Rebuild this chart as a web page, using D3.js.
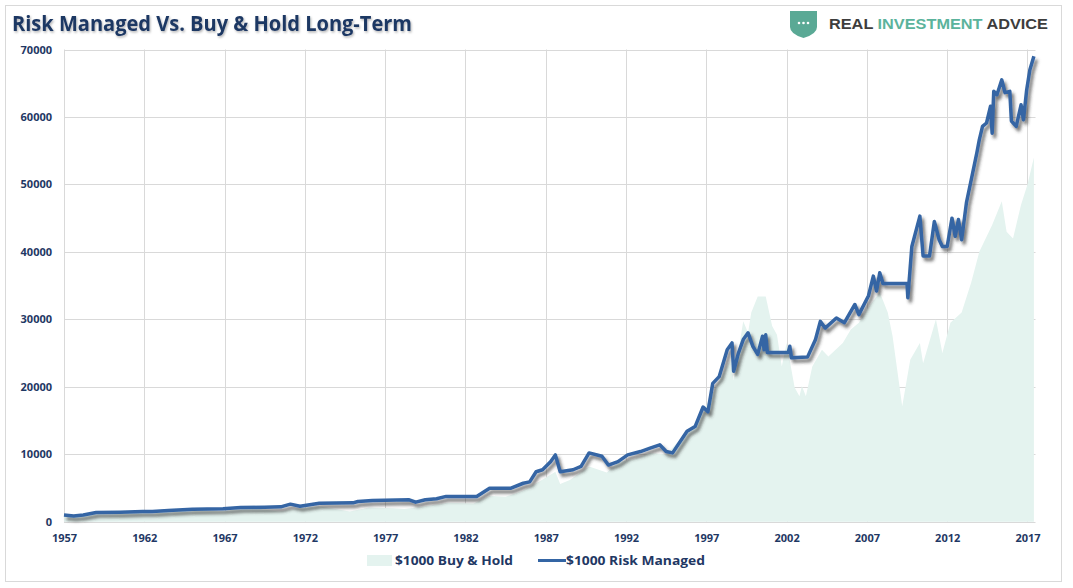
<!DOCTYPE html>
<html>
<head>
<meta charset="utf-8">
<script src="https://d3js.org/d3.v7.min.js"></script>
<style>
body { margin:0; background:#fff; }
text { font-family: "Open Sans", "Noto Sans", sans-serif; }
</style>
</head>
<body>
<svg></svg>
<script>
// risk managed line (year, value)
var rmYears = [1957.0,1957.6,1958.2,1959.0,1960.5,1961.9,1962.5,1963.5,1965.0,1966.9,1968.0,1969.5,1970.5,1971.1,1971.7,1972.9,
  1975.0,1975.3,1976.2,1978.5,1978.9,1979.5,1980.2,1980.8,1982.7,1983.5,1984.8,1985.6,1986.0,1986.4,1986.8,1987.3,1987.6,1987.9,
  1988.7,1989.2,1989.7,1990.5,1990.9,1991.5,1992.1,1992.9,1993.5,1994.1,1994.5,1994.9,1995.8,1996.3,1996.8,1997.1,1997.4,1997.8,
  1998.3,1998.6,1998.7,1999.0,1999.3,1999.6,1999.9,2000.2,2000.5,2000.6,2000.7,2000.8,2002.1,2002.2,2002.3,2003.3,2003.8,2004.1,
  2004.4,2005.1,2005.6,2006.25,2006.5,2007.1,2007.4,2007.6,2007.8,2008.0,2009.5,2009.55,2009.8,2010.3,2010.5,2010.9,2011.2,2011.5,
  2011.7,2012.0,2012.3,2012.5,2012.7,2012.9,2013.2,2013.5,2013.85,2014.0,2014.2,2014.45,2014.7,2014.8,2014.9,2015.1,2015.4,2015.6,
  2015.9,2016.0,2016.3,2016.6,2016.75,2016.95,2017.15,2017.4]
var rmValues = [1000,850,1000,1350,1400,1520,1500,1650,1850,1930,2100,2150,2200,2600,2300,2750,
  2800,3000,3150,3250,2900,3250,3400,3750,3750,4950,4950,5700,5900,7400,7700,8900,9900,7400,
  7700,8200,10200,9700,8400,8900,9900,10400,10900,11400,10400,10200,13400,14100,17000,16300,20500,21500,
  25500,26500,22300,25000,27000,28000,26000,24800,27500,25500,27700,25100,25100,26000,24300,24400,27000,29700,
  28700,30200,29500,32200,30700,33500,36400,34200,36900,35300,35300,33200,40800,45300,39400,39400,44500,41800,
  40800,40800,45000,42300,44800,41800,47300,50700,54700,56600,58600,59100,61600,57600,63800,63300,65500,63600,
  63800,59400,58600,61800,59600,64000,67000,69000]

// buy and hold area
var bhYears = [1957.0,1957.8,1958.5,1959.5,1960.8,1961.9,1962.5,1963.5,1965.0,1966.8,1968.0,1968.9,1970.4,1971.5,1972.9,1974.8,
  1976.0,1977.5,1978.2,1979.5,1980.9,1982.5,1983.5,1984.5,1985.5,1986.5,1987.6,1987.9,1988.5,1989.7,1990.8,1991.5,1992.5,1993.5,
  1994.5,1995.5,1996.5,1997.5,1998.5,1998.7,1999.3,1999.6,1999.8,2000.2,2000.7,2001.1,2001.4,2001.7,2002.0,2002.5,2002.8,2002.95,
  2003.2,2003.6,2004.2,2004.6,2005.5,2006.0,2006.5,2007.0,2007.8,2008.3,2008.6,2009.2,2009.7,2010.3,2010.5,2011.3,2011.7,2012.2,
  2012.9,2013.5,2014.0,2014.8,2015.4,2015.7,2016.1,2016.6,2017.0,2017.4]
var bhValues = [1000,850,1050,1250,1200,1450,1200,1500,1750,1600,1850,1950,1500,1950,2300,1500,
  2100,2000,1900,2300,2800,2700,3800,3700,4500,5800,7400,5600,6200,8200,7300,8800,9300,10200,
  10000,12500,15000,19500,24000,21000,29700,28000,31000,33400,33400,29000,27700,23000,26500,19900,18600,20100,
  18600,23000,25500,24500,26500,28500,29500,31500,34000,31000,27500,17100,24000,26500,23500,30000,25000,29500,
  31000,35500,40000,44000,47500,43000,42000,47000,50000,54000]

var xTicks = [1957,1962,1967,1972,1977,1982,1987,1992,1997,2002,2007,2012,2017]
var yTicks = [0,10000,20000,30000,40000,50000,60000,70000]

var screen = {width:1073, height:588}
var plot = {left:64, right:1035.5, top:49.5, bottom:521.7}
var navy = "#1f3864"

var svg = d3.select("svg")
    .attr("width", screen.width)
    .attr("height", screen.height)

var defs = svg.append("defs")
defs.append("filter").attr("id", "lineShadow")
    .attr("x", "-5%").attr("y", "-5%").attr("width", "110%").attr("height", "115%")
    .append("feDropShadow")
    .attr("dx", 2.5).attr("dy", 3.5).attr("stdDeviation", 1.8)
    .attr("flood-color", "#333").attr("flood-opacity", 0.65)
defs.append("filter").attr("id", "textShadow")
    .append("feDropShadow")
    .attr("dx", 1).attr("dy", 1.5).attr("stdDeviation", 1)
    .attr("flood-color", "#000").attr("flood-opacity", 0.3)

// outer frame
svg.append("rect")
    .attr("x", 5.5).attr("y", 5.5)
    .attr("width", 1056).attr("height", 576)
    .attr("fill", "none").attr("stroke", "#d9d9d9")

var xScale = d3.scaleLinear()
    .domain([1957, 2017.5])
    .range([plot.left, plot.right])
var yScale = d3.scaleLinear()
    .domain([0, 70000])
    .range([plot.bottom, plot.top])

// grid
var grid = svg.append("g").attr("id", "grid")
grid.selectAll("line.h")
    .data(yTicks)
    .enter()
    .append("line")
    .attr("class", "h")
    .attr("x1", plot.left).attr("x2", plot.right)
    .attr("y1", function(d){ return Math.round(yScale(d)) + 0.5 })
    .attr("y2", function(d){ return Math.round(yScale(d)) + 0.5 })
    .attr("stroke", "#d9d9d9")
grid.selectAll("line.v")
    .data(xTicks)
    .enter()
    .append("line")
    .attr("class", "v")
    .attr("x1", function(d){ return Math.round(xScale(d)) + 0.5 })
    .attr("x2", function(d){ return Math.round(xScale(d)) + 0.5 })
    .attr("y1", plot.top).attr("y2", plot.bottom)
    .attr("stroke", "#d9d9d9")

// buy & hold area
var bhData = bhYears.map(function(y, i){ return {year:y, value:bhValues[i]} })
var area = d3.area()
    .x(function(d){ return xScale(d.year) })
    .y0(yScale(0))
    .y1(function(d){ return yScale(d.value) })
svg.append("path")
    .datum(bhData)
    .attr("d", area)
    .attr("fill", "#e4f3ef")

// risk managed line
var rmData = rmYears.map(function(y, i){ return {year:y, value:rmValues[i]} })
var line = d3.line()
    .x(function(d){ return xScale(d.year) })
    .y(function(d){ return yScale(d.value) })
svg.append("path")
    .datum(rmData)
    .attr("d", line)
    .attr("fill", "none")
    .attr("stroke", "#3465a4")
    .attr("stroke-width", 3.5)
    .attr("stroke-linejoin", "round")
    .attr("filter", "url(#lineShadow)")

// axes
var yAxis = d3.axisLeft(yScale).tickValues(yTicks).tickSize(0).tickPadding(12).tickFormat(d3.format("d"))
var xAxis = d3.axisBottom(xScale).tickValues(xTicks).tickSize(0).tickPadding(13).tickFormat(d3.format("d"))

var ya = svg.append("g")
    .attr("transform", "translate(" + plot.left + ",0)")
    .call(yAxis)
var xa = svg.append("g")
    .attr("transform", "translate(0," + plot.bottom + ")")
    .call(xAxis)
svg.selectAll(".domain").remove()
svg.selectAll(".tick text")
    .attr("fill", navy)
    .style("font-size", "11px")
    .style("font-weight", "bold")
    .style("font-family", "'Open Sans', sans-serif")

// title
svg.append("text")
    .attr("x", 12).attr("y", 31)
    .attr("textLength", 400)
    .attr("lengthAdjust", "spacingAndGlyphs")
    .attr("fill", navy)
    .attr("filter", "url(#textShadow)")
    .style("font-size", "22px")
    .style("font-weight", "bold")
    .text("Risk Managed Vs. Buy & Hold Long-Term")

// logo
var logo = svg.append("g").attr("id", "logo")
logo.append("path")
    .attr("d", "M790,11 L817,11 L817,27 Q817,34 803.5,38 Q790,34 790,27 Z")
    .attr("fill", "#5aa995")
logo.selectAll("circle")
    .data([799, 803.5, 808])
    .enter()
    .append("circle")
    .attr("cx", function(d){ return d })
    .attr("cy", 23)
    .attr("r", 1.3)
    .attr("fill", "#fff")
var logoText = logo.append("text")
    .attr("x", 829).attr("y", 28.5)
    .attr("textLength", 219)
    .attr("lengthAdjust", "spacingAndGlyphs")
    .style("font-family", "'Liberation Sans', Arial, sans-serif")
    .style("font-size", "14.5px")
    .style("font-weight", "bold")
logoText.append("tspan").attr("fill", "#3d3d3d").text("REAL ")
logoText.append("tspan").attr("fill", "#5bb39c").text("INVESTMENT")
logoText.append("tspan").attr("fill", "#3d3d3d").text(" ADVICE")

// legend
var legend = svg.append("g").attr("id", "legend")
legend.append("rect")
    .attr("x", 367).attr("y", 555)
    .attr("width", 25).attr("height", 11)
    .attr("fill", "#e4f3ef")
legend.append("text")
    .attr("x", 395).attr("y", 565)
    .attr("textLength", 118)
    .attr("lengthAdjust", "spacingAndGlyphs")
    .attr("fill", navy)
    .style("font-size", "13px")
    .style("font-weight", "bold")
    .text("$1000 Buy & Hold")
legend.append("line")
    .attr("x1", 538).attr("x2", 566)
    .attr("y1", 560.5).attr("y2", 560.5)
    .attr("stroke", "#3465a4")
    .attr("stroke-width", 3)
legend.append("text")
    .attr("x", 566).attr("y", 565)
    .attr("textLength", 139)
    .attr("lengthAdjust", "spacingAndGlyphs")
    .attr("fill", navy)
    .style("font-size", "13px")
    .style("font-weight", "bold")
    .text("$1000 Risk Managed")
</script>
</body>
</html>
